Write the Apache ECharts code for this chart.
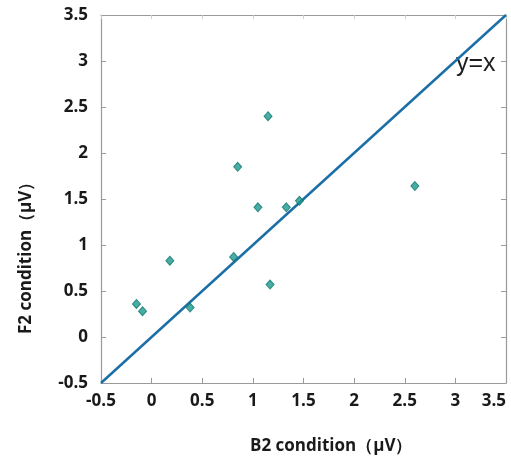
<!DOCTYPE html>
<html>
<head>
<meta charset="utf-8">
<script src="https://cdn.jsdelivr.net/npm/echarts@6/dist/echarts.min.js"></script>
<style>
  html, body { margin: 0; padding: 0; background: #fff; }
  #chart { width: 511px; height: 466px; }
</style>
</head>
<body>
<div id="chart"></div>
<script>
// B2 vs F2 amplitudes (µV)
const b2Values = [-0.15, -0.09, 0.18, 0.38, 0.81, 0.85, 1.05, 1.15, 1.17, 1.33, 1.46, 2.60];
const f2Values = [0.36, 0.28, 0.83, 0.32, 0.87, 1.85, 1.41, 2.40, 0.57, 1.41, 1.48, 1.64];
const identityLine = [-0.5, 3.5];
const xTitle = 'B2 condition（μV）';
const yTitle = 'F2 condition（μV）';

const chart = echarts.init(document.getElementById('chart'));

const tickFont = {
    fontFamily: 'Open Sans',
    fontWeight: 'bold',
    fontSize: 17,
    color: '#1a1a1a',
};

const boxLine = { onZero: false, lineStyle: { color: '#9a9a9a', width: 1.2 } };

const option = {
    animation: false,
    backgroundColor: '#fff',
    grid: { left: 101, right: 5, top: 15, bottom: 83, outerBoundsMode: 'none', containLabel: false },
    xAxis: [
        {
            type: 'value',
            min: -0.5,
            max: 3.5,
            interval: 0.5,
            axisLine: boxLine,
            axisTick: { inside: true, length: 5, lineStyle: { color: '#9a9a9a' } },
            splitLine: { show: false },
            axisLabel: {
                ...tickFont,
                margin: 10,
                alignMaxLabel: 'right',
                formatter: (v) => String(v),
            },
        },
        {
            type: 'value',
            position: 'top',
            min: -0.5,
            max: 3.5,
            interval: 0.5,
            axisLine: boxLine,
            axisTick: { inside: true, length: 4, lineStyle: { color: '#cfcfcf' } },
            axisLabel: { show: false },
            splitLine: { show: false },
        },
    ],
    yAxis: [
        {
            type: 'value',
            min: -0.5,
            max: 3.5,
            interval: 0.5,
            axisLine: boxLine,
            axisTick: { inside: true, length: 5, lineStyle: { color: '#9a9a9a' } },
            splitLine: { show: false },
            axisLabel: {
                ...tickFont,
                margin: 13,
                formatter: (v) => String(v),
            },
        },
        {
            type: 'value',
            position: 'right',
            min: -0.5,
            max: 3.5,
            interval: 0.5,
            axisLine: boxLine,
            axisTick: { inside: true, length: 5, lineStyle: { color: '#9a9a9a' } },
            axisLabel: { show: false },
            splitLine: { show: false },
        },
    ],
    graphic: [
        {
            type: 'text',
            left: 250,
            top: 438,
            style: {
                text: xTitle,
                font: 'bold 17px "Open Sans"',
                fill: '#1a1a1a',
            },
        },
        {
            type: 'text',
            x: 18,
            y: 334,
            rotation: Math.PI / 2,
            style: {
                text: yTitle,
                font: 'bold 17px "Open Sans"',
                fill: '#1a1a1a',
            },
        },
        {
            type: 'text',
            x: 456,
            y: 52,
            style: {
                text: 'y=x',
                font: '25px "Liberation Sans Narrow", "Liberation Sans"',
                fill: '#1e1e1e',
            },
        },
    ],
    series: [
        {
            type: 'line',
            data: identityLine.map((v) => [v, v]),
            symbol: 'none',
            lineStyle: { color: '#1b6fa6', width: 2.5 },
            z: 2,
        },
        {
            type: 'scatter',
            data: b2Values.map((x, i) => [x, f2Values[i]]),
            symbol: 'diamond',
            symbolSize: [8, 9],
            itemStyle: {
                color: '#1a9a8e',
                borderColor: '#12756c',
                borderWidth: 1,
            },
            z: 3,
        },
    ],
};

chart.setOption(option);
</script>
</body>
</html>
